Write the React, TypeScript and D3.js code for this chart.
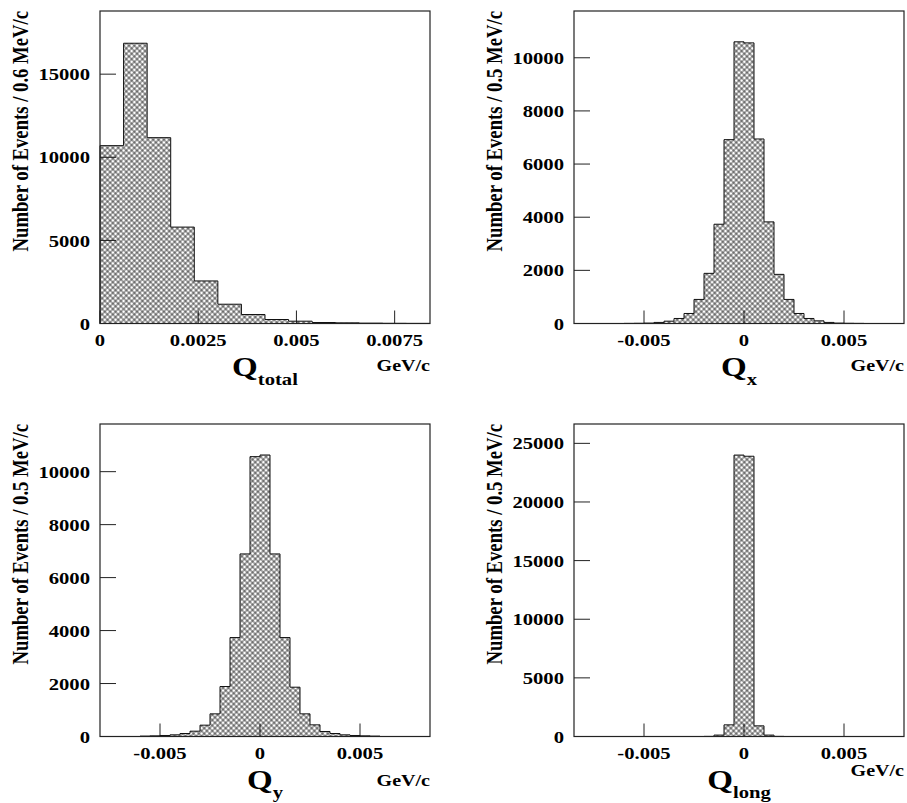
import React, { useEffect, useRef } from 'react';
import * as d3 from 'd3';

// bin contents (lower edge of first bin + bin width)
const qTotalStart = 0
const qTotalBin = 0.0006
const qTotalCounts = [10700, 16860, 11180, 5800, 2560, 1160, 540, 240, 140, 60, 40, 20, 10, 5]

const qxStart = -0.006
const qxBin = 0.0005
const qxCounts = [4, 8, 15, 40, 88, 189, 377, 906, 1887, 3736, 6919, 10600,
  10560, 6944, 3824, 1849, 906, 377, 189, 100, 40, 15, 8, 4]

const qyStart = -0.006
const qyBin = 0.0005
const qyCounts = [15, 25, 38, 63, 113, 201, 428, 855, 1887, 3736, 6894, 10567,
  10630, 6894, 3736, 1862, 855, 440, 189, 113, 63, 38, 25, 15]

const qLongStart = -0.002
const qLongBin = 0.0005
const qLongCounts = [10, 120, 994, 24000, 23900, 909, 120, 10]

// axis ticks
const totalTicksX = [0, 0.0025, 0.005, 0.0075]
const totalTicksY = [0, 5000, 10000, 15000]
const xyTicksX = [-0.005, 0, 0.005]
const xyTicksY = [0, 2000, 4000, 6000, 8000, 10000]
const longTicksY = [0, 5000, 10000, 15000, 20000, 25000]

const FONT = "'Liberation Serif', 'Times New Roman', serif"
const STRETCH = 1.18 // glyphs in the original are a bit wide
const W = 330
const H = 312.5

const panels = [
  { counts: qTotalCounts, start: qTotalStart, bin: qTotalBin, xDomain: [0, 0.0084], yMax: 18800,
    xTicks: totalTicksX, yTicks: totalTicksY, yTitle: 'Number of Events / 0.6 MeV/c', sub: 'total',
    left: 100, top: 11, unitDy: 47 },
  { counts: qxCounts, start: qxStart, bin: qxBin, xDomain: [-0.0085, 0.008], yMax: 11760,
    xTicks: xyTicksX, yTicks: xyTicksY, yTitle: 'Number of Events / 0.5 MeV/c', sub: 'x',
    left: 574, top: 11, unitDy: 47 },
  { counts: qyCounts, start: qyStart, bin: qyBin, xDomain: [-0.008, 0.0085], yMax: 11800,
    xTicks: xyTicksX, yTicks: xyTicksY, yTitle: 'Number of Events / 0.5 MeV/c', sub: 'y',
    left: 100, top: 424, unitDy: 49 },
  { counts: qLongCounts, start: qLongStart, bin: qLongBin, xDomain: [-0.0085, 0.008], yMax: 26650,
    xTicks: xyTicksX, yTicks: longTicksY, yTitle: 'Number of Events / 0.5 MeV/c', sub: 'long',
    left: 574, top: 424, unitDy: 39 },
]

function drawPanel(svg, p) {
  const x = d3.scaleLinear().domain(p.xDomain).range([p.left, p.left + W])
  const y = d3.scaleLinear().domain([0, p.yMax]).range([p.top + H, p.top])
  const g = svg.append('g')

  const bins = p.counts.map((c, i) => ({ x0: p.start + i * p.bin, x1: p.start + (i + 1) * p.bin, c }))

  // ticks first, the hatch is see-through
  g.selectAll('line.ytick').data(p.yTicks).join('line')
    .attr('class', 'ytick')
    .attr('x1', p.left).attr('x2', p.left + 16)
    .attr('y1', d => y(d)).attr('y2', d => y(d))
    .attr('stroke', '#222').attr('stroke-width', 1)

  g.selectAll('line.xtick').data(p.xTicks).join('line')
    .attr('class', 'xtick')
    .attr('x1', d => x(d)).attr('x2', d => x(d))
    .attr('y1', p.top + H).attr('y2', p.top + H - 13)
    .attr('stroke', '#222').attr('stroke-width', 1)

  g.selectAll('rect.bar').data(bins).join('rect')
    .attr('class', 'bar')
    .attr('x', d => x(d.x0))
    .attr('width', d => x(d.x1) - x(d.x0))
    .attr('y', d => y(d.c))
    .attr('height', d => y(0) - y(d.c))
    .attr('fill', 'url(#hatch)')

  const pts = [[bins[0].x0, 0]]
  bins.forEach(b => { pts.push([b.x0, b.c]); pts.push([b.x1, b.c]) })
  pts.push([bins[bins.length - 1].x1, 0])
  g.append('path')
    .attr('d', d3.line().x(d => x(d[0])).y(d => y(d[1]))(pts))
    .attr('fill', 'none').attr('stroke', '#111').attr('stroke-width', 1)

  g.append('rect')
    .attr('x', p.left).attr('y', p.top).attr('width', W).attr('height', H)
    .attr('fill', 'none').attr('stroke', '#222').attr('stroke-width', 1.2)

  const text = sel => sel.attr('font-family', FONT).attr('font-weight', 'bold').attr('fill', '#000')

  g.selectAll('text.ylab').data(p.yTicks).join('text')
    .attr('class', 'ylab')
    .attr('transform', d => `translate(${p.left - 10},${y(d)}) scale(${STRETCH},1)`)
    .attr('dy', '0.35em').attr('text-anchor', 'end').attr('font-size', 17.5)
    .call(text)
    .text(d => String(d))

  g.selectAll('text.xlab').data(p.xTicks).join('text')
    .attr('class', 'xlab')
    .attr('transform', d => `translate(${x(d)},${p.top + H + 22.5}) scale(${STRETCH},1)`)
    .attr('text-anchor', 'middle').attr('font-size', 17.5)
    .call(text)
    .text(d => String(d))

  g.append('text')
    .attr('transform', `translate(${p.left - 72},${p.top}) scale(${STRETCH},1) rotate(-90)`)
    .attr('text-anchor', 'end').attr('font-size', 18.7)
    .call(text)
    .text(p.yTitle)

  const q = g.append('text')
    .attr('transform', `translate(${p.left + W / 2},${p.top + H + 52}) scale(${STRETCH},1)`)
    .attr('text-anchor', 'middle')
    .call(text)
  q.append('tspan').attr('font-size', 28).text('Q')
  q.append('tspan').attr('font-size', 17.5).attr('dy', 9).text(p.sub)

  g.append('text')
    .attr('transform', `translate(${p.left + W},${p.top + H + p.unitDy}) scale(${STRETCH},1)`)
    .attr('text-anchor', 'end').attr('font-size', 17)
    .call(text)
    .text('GeV/c')
}

function App() {
  const ref = useRef(null)

  useEffect(() => {
    const svg = d3.select(ref.current)
    svg.selectAll('*').remove()

    // cross hatch, open diamonds like the original
    const s = 3.8
    svg.append('defs').append('pattern')
      .attr('id', 'hatch')
      .attr('patternUnits', 'userSpaceOnUse')
      .attr('width', s).attr('height', s)
      .attr('patternTransform', 'rotate(45)')
      .append('path')
      .attr('d', `M0,${s / 2}H${s}M${s / 2},0V${s}`)
      .attr('stroke', '#000').attr('stroke-width', 0.65)

    panels.forEach(p => drawPanel(svg, p))
  }, [])

  return (
    <svg ref={ref} width={907} height={803}
      style={{ position: 'absolute', left: 0, top: 0, background: '#fff' }} />
  )
}

export default App
